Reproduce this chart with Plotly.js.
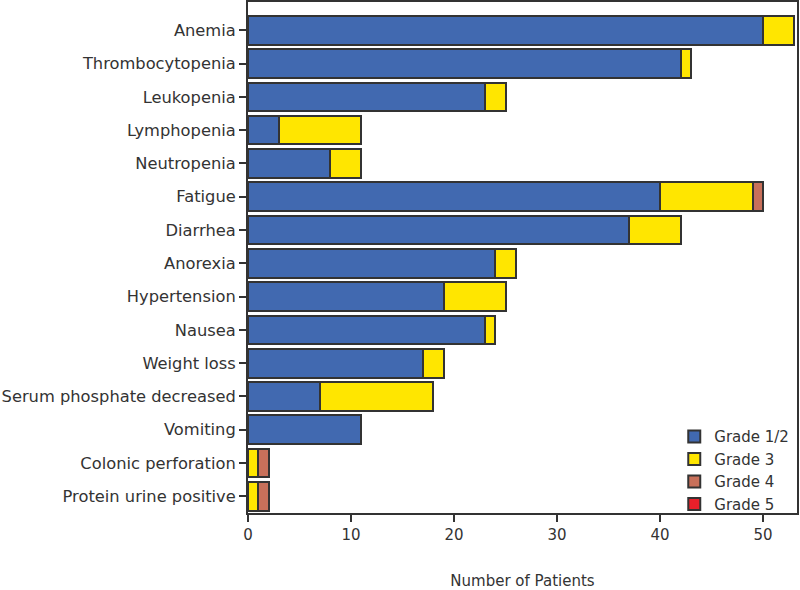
<!DOCTYPE html>
<html><head><meta charset="utf-8">
<script src="https://cdn.plot.ly/plotly-3.0.1.min.js"></script>
<style>body{margin:0;background:#fff}#chart{width:800px;height:590px}</style>
</head><body><div id="chart"></div>
<script>
const categories = ["Anemia","Thrombocytopenia","Leukopenia","Lymphopenia","Neutropenia","Fatigue","Diarrhea","Anorexia","Hypertension","Nausea","Weight loss","Serum phosphate decreased","Vomiting","Colonic perforation","Protein urine positive"];
const grade12 = [50,42,23,3,8,40,37,24,19,23,17,7,11,0,0];
const grade3  = [3,1,2,8,3,9,5,2,6,1,2,11,0,1,1];
const grade4  = [0,0,0,0,0,1,0,0,0,0,0,0,0,1,1];
const grade5  = [0,0,0,0,0,0,0,0,0,0,0,0,0,0,0];
const seriesNames = ["Grade 1/2","Grade 3","Grade 4","Grade 5"];
const colors = ["#4169B0","#FFE600","#C8705A","#E8202A"];
const series = [grade12, grade3, grade4, grade5];
const font = "DejaVu Sans, sans-serif";
const traces = series.map((v,i)=>({
  type:"bar", orientation:"h", name:seriesNames[i],
  y:categories, x:v,
  marker:{color:colors[i], line:{color:"#333333", width:2}},
  width:0.86
}));
const layout = {
  width:800, height:590,
  margin:{l:248, r:3, t:2, b:77},
  barmode:"stack",
  paper_bgcolor:"#fff", plot_bgcolor:"#fff",
  font:{family:font, size:15, color:"#333"},
  xaxis:{range:[0,53.3], tickvals:[0,10,20,30,40,50], showgrid:false, zeroline:false,
    showline:true, mirror:true, linecolor:"#333", linewidth:2,
    ticks:"outside", ticklen:7, tickwidth:2, tickcolor:"#333",
    tickfont:{family:font, size:15, color:"#333"},
    title:{text:"Number of Patients", font:{family:font, size:15, color:"#333"}, standoff:33}},
  yaxis:{type:"category", categoryorder:"array", categoryarray:categories,
    range:[14.5,-0.85], showgrid:false, zeroline:false,
    showline:true, mirror:true, linecolor:"#333", linewidth:2,
    ticks:"outside", ticklen:7, tickwidth:2, tickcolor:"#333", ticklabelstandoff:0,
    tickfont:{family:font, size:16.3, color:"#333"}},
  legend:{x:0.995, y:-0.014, xanchor:"right", yanchor:"bottom", bgcolor:"rgba(0,0,0,0)",
    font:{family:font, size:15, color:"#333"}, traceorder:"normal", itemwidth:30, tracegroupgap:0},
  showlegend:true
};
Plotly.newPlot("chart", traces, layout, {displayModeBar:false, staticPlot:true});
</script></body></html>
